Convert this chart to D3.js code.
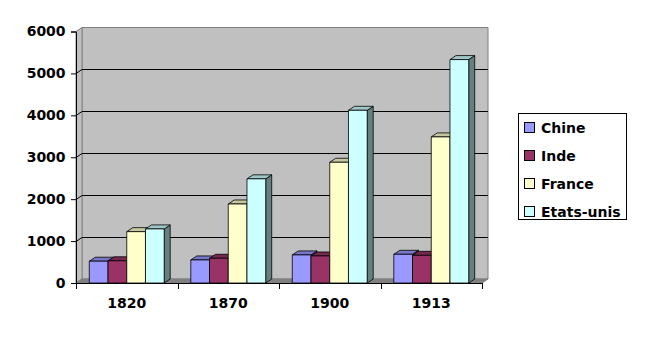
<!DOCTYPE html>
<html>
<head>
<meta charset="utf-8">
<script src="https://cdn.jsdelivr.net/npm/d3@7"></script>
<style>
  body { margin: 0; background: #fff; }
  text { font-family: "DejaVu Sans", sans-serif; font-weight: bold; font-size: 14px; fill: #000; }
</style>
</head>
<body>
<div id="chart"></div>
<script>
// data
var years = ["1820", "1870", "1900", "1913"];
var seriesNames = ["Chine", "Inde", "France", "Etats-unis"];
var chine = [520, 550, 670, 685];
var inde = [530, 590, 645, 660];
var france = [1225, 1885, 2880, 3485];
var usa = [1290, 2485, 4120, 5330];
var yTicks = [0, 1000, 2000, 3000, 4000, 5000, 6000];
var colors = ["#9999ff", "#993366", "#ffffcc", "#ccffff"];

var allSeries = [chine, inde, france, usa];

var width = 660, height = 355;
var dx = 6, dy = -4; // 3d depth offset

var svg = d3.select("#chart").append("svg").attr("width", width).attr("height", height)

var x0 = d3.scaleBand().domain(years).range([76, 482]).padding(0)
var x1 = d3.scaleBand().domain(seriesNames).range([0, x0.bandwidth()]).paddingInner(0).paddingOuter(0.71)
var y = d3.scaleLinear().domain([0, 6000]).range([283, 31.5])

var y0 = y(0), yTop = y(6000), xl = x0.range()[0], xr = x0.range()[1];

// walls and floor
svg.append("polygon")
  .attr("points", [[xl + dx, yTop + dy], [xr + dx, yTop + dy], [xr + dx, y0 + dy], [xl + dx, y0 + dy]].join(" "))
  .attr("fill", "#c0c0c0").attr("stroke", "#808080");
svg.append("polygon")
  .attr("points", [[xl, yTop], [xl + dx, yTop + dy], [xl + dx, y0 + dy], [xl, y0]].join(" "))
  .attr("fill", "#c0c0c0").attr("stroke", "#808080");
svg.append("polygon")
  .attr("points", [[xl, y0], [xl + dx, y0 + dy], [xr + dx, y0 + dy], [xr, y0]].join(" "))
  .attr("fill", "#808080").attr("stroke", "#808080");

// gridlines on back wall + side wall
yTicks.slice(1, -1).forEach(function (t) {
  var yy = Math.round(y(t)) + 0.5;
  svg.append("path")
    .attr("d", "M" + xl + "," + yy + "L" + (xl + dx) + "," + (yy + dy) + "L" + (xr + dx) + "," + (yy + dy))
    .attr("stroke", "#000").attr("fill", "none");
});

// bars
function shade(c, k) {
  var col = d3.rgb(c);
  return d3.rgb(col.r * k, col.g * k, col.b * k).toString();
}

years.forEach(function (yr, i) {
  seriesNames.forEach(function (name, j) {
    var v = allSeries[j][i];
    var bx = x0(yr) + x1(name), bw = x1.bandwidth(), by = y(v);
    var g = svg.append("g").attr("stroke", "#000").attr("stroke-width", 0.8).attr("stroke-linejoin", "round");
    // side
    g.append("polygon")
      .attr("points", [[bx + bw, by], [bx + bw + dx, by + dy], [bx + bw + dx, y0 + dy], [bx + bw, y0]].join(" "))
      .attr("fill", shade(colors[j], 0.5));
    // top
    g.append("polygon")
      .attr("points", [[bx, by], [bx + dx, by + dy], [bx + bw + dx, by + dy], [bx + bw, by]].join(" "))
      .attr("fill", shade(colors[j], 0.78));
    // front
    g.append("rect")
      .attr("x", bx).attr("y", by).attr("width", bw).attr("height", y0 - by)
      .attr("fill", colors[j]);
  });
});

// y axis
var yAxis = d3.axisLeft(y).tickValues(yTicks).tickFormat(d3.format("d")).tickSize(5).tickPadding(4)
var gy = svg.append("g").attr("transform", "translate(" + xl + ",0)").call(yAxis)
gy.select(".domain").attr("stroke", "#000")
gy.selectAll("text").attr("font-family", null).attr("font-size", null).attr("dx", "-0.1em")

// x axis
var xAxis = d3.axisBottom(x0).tickSize(0).tickPadding(15)
var gx = svg.append("g").attr("transform", "translate(0," + y0 + ")").call(xAxis)
gx.select(".domain").attr("stroke", "#000")
gx.selectAll("text").attr("font-family", null).attr("font-size", null)
// category boundary ticks
gx.selectAll(".sep").data(years.concat(["end"])).enter().append("line")
  .attr("class", "sep")
  .attr("x1", function (d, i) { return Math.round(xl + i * x0.step()) + 0.5 })
  .attr("x2", function (d, i) { return Math.round(xl + i * x0.step()) + 0.5 })
  .attr("y1", 0).attr("y2", 6)
  .attr("stroke", "#000");

// legend
var legend = svg.append("g").attr("transform", "translate(518,113)")
legend.append("rect").attr("x", 0.5).attr("y", 0.5).attr("width", 108).attr("height", 106)
  .attr("fill", "#fff").attr("stroke", "#000");
seriesNames.forEach(function (name, j) {
  var ly = 15 + j * 28;
  legend.append("rect").attr("x", 6.5).attr("y", ly - 5.5).attr("width", 10).attr("height", 10)
    .attr("fill", colors[j]).attr("stroke", "#000");
  legend.append("text").attr("x", 23).attr("y", ly).attr("dy", "0.36em").text(name);
});
</script>
</body>
</html>
